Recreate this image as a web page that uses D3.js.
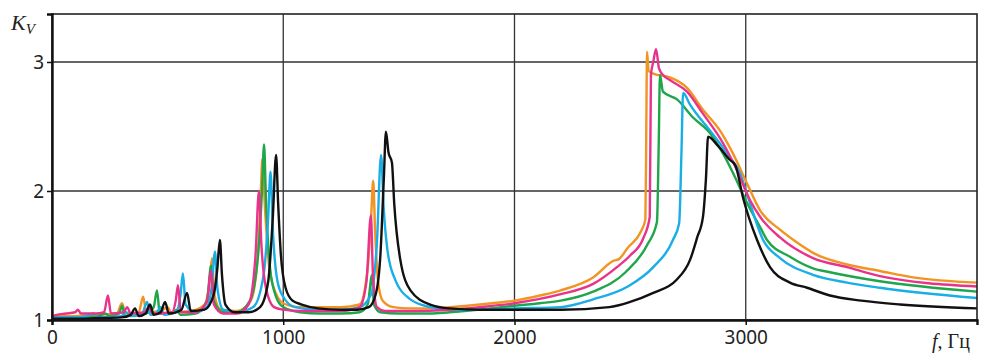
<!DOCTYPE html>
<html>
<head>
<meta charset="utf-8">
<script src="https://cdn.jsdelivr.net/npm/d3@7"></script>
<style>
  body { margin: 0; background: #fff; }
  svg { display: block; }
</style>
</head>
<body>
<div id="chart"></div>
<script>
// frequency ticks (Hz) and Kv ticks
const xTicks = [0, 1000, 2000, 3000];
const yTicks = [1, 2, 3];

// each series: [f, Kv]
const orangeSeries = [
  [0,1.03],[100,1.03],[200,1.04],[280,1.05],[303,1.13],[318,1.05],[375,1.06],[394,1.18],[408,1.06],
  [470,1.07],[500,1.1],[515,1.06],[600,1.07],[660,1.12],[680,1.28],[692,1.48],[702,1.2],[730,1.08],
  [800,1.07],[860,1.15],[890,1.5],[903,2.0],[910,2.25],[920,1.9],[940,1.4],[970,1.2],[1000,1.13],
  [1072,1.1],[1160,1.1],[1250,1.1],[1330,1.12],[1365,1.4],[1380,1.8],[1389,2.08],[1397,1.7],[1410,1.3],
  [1430,1.15],[1475,1.1],[1550,1.09],[1635,1.09],[1720,1.1],[1850,1.12],[2000,1.15],[2110,1.19],
  [2200,1.23],[2340,1.33],[2430,1.46],[2450,1.47],[2490,1.56],[2545,1.68],[2566,1.78],[2570,2.5],
  [2573,3.08],[2580,2.93],[2600,2.91],[2672,2.88],[2746,2.8],[2815,2.63],[2888,2.47],[2945,2.29],
  [3005,2.06],[3062,1.85],[3148,1.7],[3222,1.6],[3291,1.52],[3438,1.43],[3580,1.38],[3723,1.33],[4000,1.29]
];

const greenSeries = [
  [0,1.02],[100,1.02],[200,1.03],[230,1.05],[250,1.03],[290,1.05],[303,1.11],[315,1.03],[380,1.04],
  [420,1.06],[440,1.1],[454,1.23],[466,1.05],[520,1.05],[540,1.08],[555,1.04],[620,1.05],[670,1.15],
  [688,1.42],[700,1.15],[740,1.06],[800,1.06],[856,1.15],[891,1.5],[908,2.0],[917,2.36],[925,1.95],
  [943,1.4],[969,1.18],[1000,1.1],[1072,1.06],[1160,1.05],[1250,1.05],[1330,1.06],[1365,1.12],
  [1384,1.35],[1392,1.12],[1420,1.06],[1500,1.05],[1635,1.05],[1720,1.06],[1850,1.08],[2000,1.11],
  [2110,1.13],[2200,1.15],[2340,1.22],[2480,1.37],[2573,1.58],[2616,1.76],[2624,2.4],[2629,2.9],
  [2642,2.77],[2703,2.71],[2772,2.57],[2845,2.45],[2902,2.29],[2945,2.14],[3005,1.91],[3062,1.72],
  [3092,1.62],[3191,1.49],[3291,1.4],[3364,1.37],[3580,1.3],[4000,1.22]
];

const cyanSeries = [
  [0,1.02],[100,1.02],[150,1.03],[180,1.05],[200,1.02],[300,1.03],[320,1.06],[340,1.03],[390,1.05],
  [411,1.14],[425,1.04],[450,1.05],[470,1.1],[485,1.04],[540,1.07],[556,1.2],[566,1.36],[578,1.12],
  [620,1.06],[670,1.1],[690,1.25],[705,1.53],[715,1.25],[740,1.08],[800,1.06],[870,1.1],[915,1.35],
  [935,1.8],[945,2.15],[955,1.7],[975,1.3],[1000,1.18],[1050,1.1],[1150,1.08],[1250,1.08],[1330,1.1],
  [1380,1.2],[1405,1.6],[1423,2.28],[1435,1.85],[1450,1.55],[1480,1.33],[1550,1.16],[1635,1.1],
  [1720,1.08],[1850,1.08],[2000,1.09],[2200,1.1],[2340,1.16],[2490,1.26],[2600,1.41],[2685,1.62],
  [2712,1.75],[2722,2.3],[2729,2.76],[2759,2.67],[2845,2.47],[2888,2.37],[2932,2.26],[2975,2.14],
  [3005,1.98],[3075,1.62],[3148,1.48],[3291,1.35],[3438,1.29],[3580,1.25],[4000,1.17]
];

const magentaSeries = [
  [0,1.03],[20,1.04],[60,1.05],[100,1.06],[112,1.08],[125,1.05],[190,1.05],[225,1.06],[242,1.19],
  [255,1.05],[310,1.06],[325,1.1],[340,1.05],[400,1.06],[420,1.1],[435,1.05],[520,1.06],[535,1.15],
  [545,1.27],[557,1.06],[620,1.06],[670,1.14],[688,1.38],[700,1.12],[740,1.05],[800,1.05],[850,1.12],
  [880,1.5],[895,2.0],[905,1.6],[925,1.25],[960,1.1],[1000,1.08],[1072,1.07],[1160,1.07],[1250,1.07],
  [1330,1.1],[1360,1.3],[1379,1.81],[1388,1.35],[1405,1.1],[1440,1.07],[1550,1.07],[1720,1.08],
  [1850,1.1],[2000,1.13],[2200,1.2],[2340,1.28],[2443,1.41],[2500,1.5],[2556,1.63],[2585,1.8],
  [2590,2.9],[2600,3.0],[2612,3.1],[2625,2.95],[2642,2.9],[2672,2.86],[2746,2.77],[2815,2.6],
  [2902,2.37],[2962,2.16],[3018,1.93],[3062,1.8],[3148,1.64],[3291,1.48],[3438,1.41],[3580,1.34],
  [4000,1.26]
];

const blackSeries = [
  [0,1.01],[100,1.01],[200,1.015],[300,1.02],[340,1.04],[359,1.09],[375,1.03],[405,1.05],[424,1.12],
  [440,1.04],[470,1.06],[489,1.14],[505,1.05],[560,1.08],[584,1.21],[600,1.07],[660,1.08],[700,1.2],
  [715,1.4],[726,1.62],[735,1.35],[750,1.12],[790,1.06],[850,1.06],[900,1.1],[935,1.3],[955,1.8],
  [969,2.28],[978,1.9],[990,1.5],[1010,1.25],[1040,1.15],[1080,1.12],[1150,1.09],[1250,1.08],
  [1320,1.08],[1370,1.1],[1400,1.2],[1420,1.5],[1435,2.1],[1444,2.46],[1455,2.3],[1470,2.22],
  [1480,1.9],[1505,1.48],[1550,1.23],[1635,1.12],[1720,1.09],[1850,1.08],[2000,1.08],[2200,1.08],
  [2410,1.1],[2500,1.14],[2600,1.21],[2700,1.31],[2760,1.47],[2790,1.64],[2815,1.8],[2828,2.1],
  [2837,2.42],[2880,2.35],[2932,2.24],[2955,2.2],[2988,1.95],[3049,1.62],[3105,1.41],[3191,1.29],
  [3265,1.25],[3364,1.19],[3500,1.15],[3667,1.12],[4000,1.09]
];

const seriesList = [
  { data: orangeSeries, color: "#f39321" },
  { data: greenSeries, color: "#1fa64b" },
  { data: cyanSeries, color: "#1aaee6" },
  { data: magentaSeries, color: "#e8338b" },
  { data: blackSeries, color: "#111111" }
];

const W = 981, H = 354;
const margin = { left: 52, top: 14, right: 4, bottom: 34 };
const w = W - margin.left - margin.right;
const h = H - margin.top - margin.bottom;

const svg = d3.select("#chart").append("svg")
  .attr("width", W)
  .attr("height", H);

const x = d3.scaleLinear().domain([0, 4000]).range([0, w]);
const y = d3.scaleLinear().domain([1, 3.372]).range([h, 0]);

const g = svg.append("g").attr("transform", `translate(${margin.left},${margin.top})`);

// grid
g.append("g").selectAll("line").data([2, 3]).join("line")
  .attr("x1", 0).attr("x2", w)
  .attr("y1", d => y(d)).attr("y2", d => y(d))
  .attr("stroke", "#333").attr("stroke-width", 1.3);
g.append("g").selectAll("line").data([1000, 2000, 3000]).join("line")
  .attr("y1", 0).attr("y2", h)
  .attr("x1", d => x(d)).attr("x2", d => x(d))
  .attr("stroke", "#333").attr("stroke-width", 1.3);

// curves
const line = d3.line()
  .x(d => x(d[0]))
  .y(d => y(d[1]))
  .curve(d3.curveMonotoneX);

g.selectAll(".curve").data(seriesList).join("path")
  .attr("class", "curve")
  .attr("d", d => line(d.data))
  .attr("fill", "none")
  .attr("stroke", d => d.color)
  .attr("stroke-width", 2.4)
  .attr("stroke-linejoin", "round");

// frame
g.append("rect")
  .attr("x", 0).attr("y", 0).attr("width", w).attr("height", h)
  .attr("fill", "none").attr("stroke", "#222").attr("stroke-width", 1.6);

// axes
const xAxis = g.append("g")
  .attr("transform", `translate(0,${h})`)
  .call(d3.axisBottom(x).tickValues(xTicks).tickSize(5).tickFormat(d3.format("d")));
const yAxis = g.append("g")
  .call(d3.axisLeft(y).tickValues(yTicks).tickSize(5).tickFormat(d3.format("d")));

[xAxis, yAxis].forEach(a => {
  a.select(".domain").attr("stroke", "#111").attr("stroke-width", 2.4);
  a.selectAll(".tick line").attr("stroke", "#111").attr("stroke-width", 1.5);
  a.selectAll(".tick text")
    .attr("font-family", "'Noto Sans', sans-serif")
    .attr("font-size", 19)
    .attr("fill", "#222");
});
xAxis.selectAll(".tick text").attr("dy", "0.95em").attr("y", 6);
yAxis.selectAll(".tick text").attr("x", -8).attr("dy", "0.35em");

// axis titles
const kv = svg.append("text")
  .attr("x", 11).attr("y", 30)
  .attr("font-family", "'Liberation Serif', serif")
  .attr("font-style", "italic")
  .attr("font-size", 22)
  .attr("fill", "#222");
kv.append("tspan").text("K");
kv.append("tspan").attr("font-size", 15).attr("dy", 4).text("V");

svg.append("text")
  .attr("x", 932).attr("y", 348)
  .attr("font-family", "'Liberation Serif', serif")
  .attr("font-size", 20)
  .attr("fill", "#222")
  .html("<tspan font-style='italic'>f</tspan>, Гц");
</script>
</body>
</html>
